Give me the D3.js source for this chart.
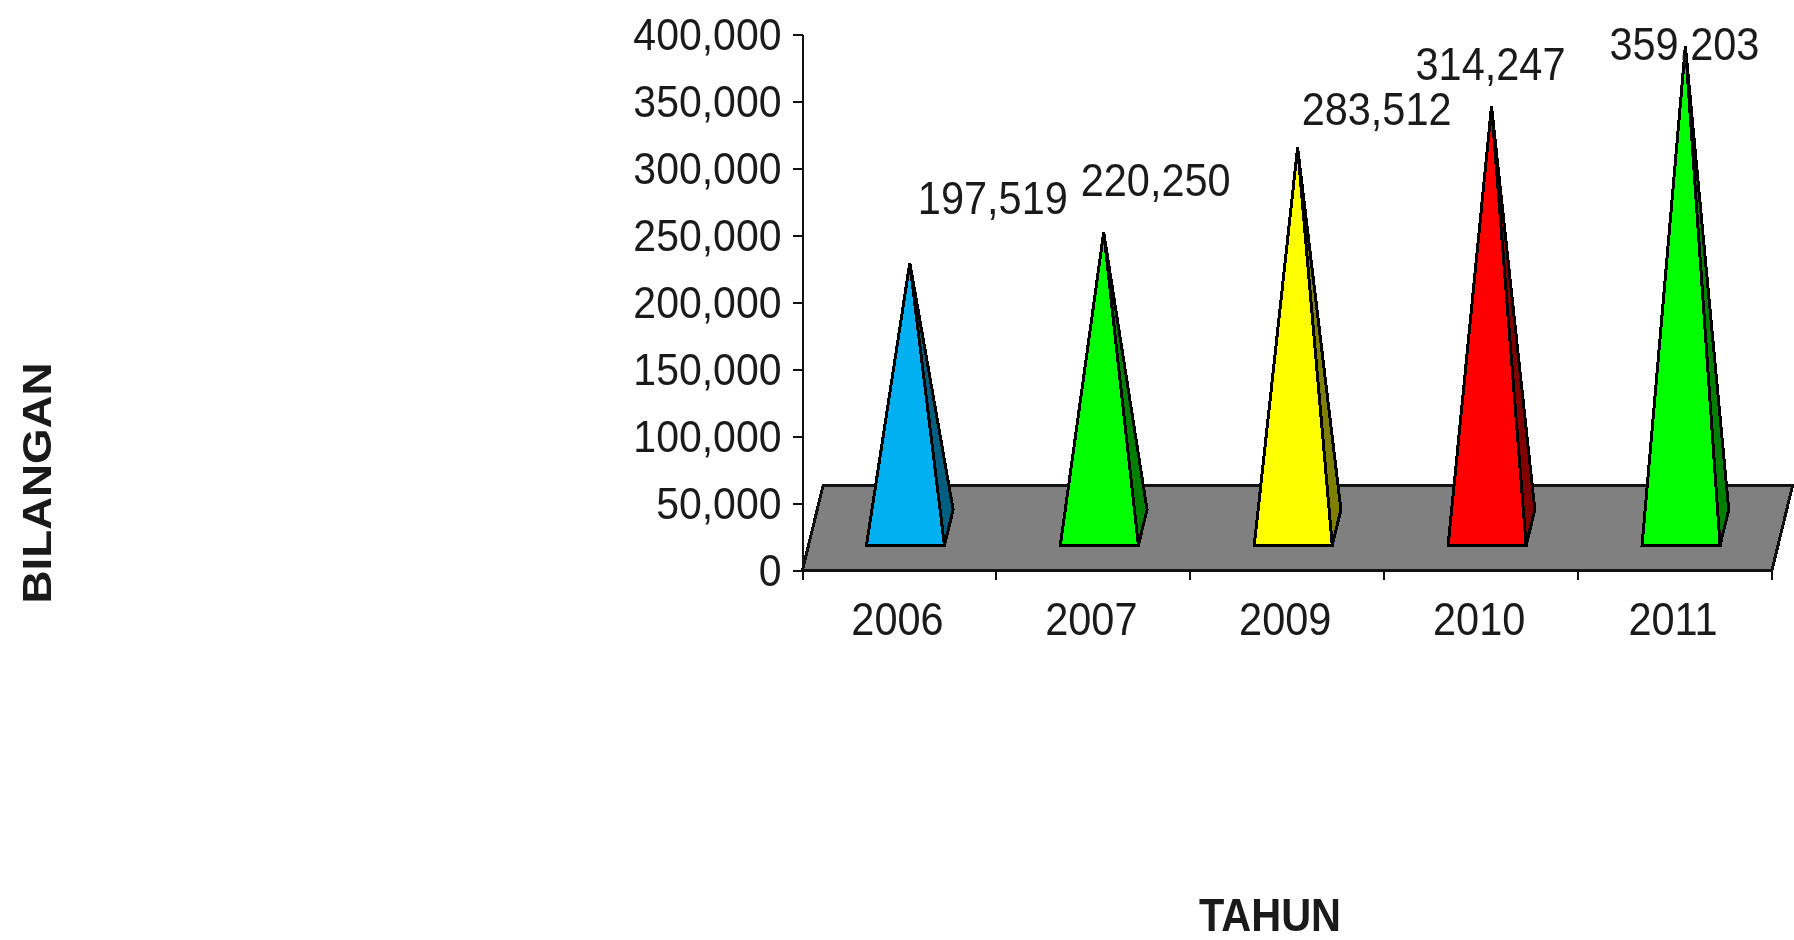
<!DOCTYPE html>
<html>
<head>
<meta charset="utf-8">
<style>
html, body { margin: 0; padding: 0; background: #fff; overflow: hidden; }
svg { display: block; filter: blur(0.5px); }
text { font-family: "Liberation Sans", Arial, sans-serif; fill: #1a1a1a; }
</style>
<script src="https://cdnjs.cloudflare.com/ajax/libs/d3/7.8.5/d3.min.js"></script>
</head>
<body>
<div id="vis-container"></div>
<script>
var years = ['2006', '2007', '2009', '2010', '2011']
var values = [197519, 220250, 283512, 314247, 359203]
var yTicks = [0, 50000, 100000, 150000, 200000, 250000, 300000, 350000, 400000]
var frontColors = ['#00b0f0', '#00ff00', '#ffff00', '#ff0000', '#00ff00']
var sideColors = ['#005f80', '#008000', '#808000', '#800000', '#008000']

// hand placed data labels, relative to the pyramid tip
var labelDx = [83, 52, 79, -1, -1]
var labelDy = [-65, -53, -39, -43, -3]

var width = 1794, height = 940
var fontSize = 41.5, tickFontSize = 41, stretch = 1.1
var depthX = 20.7, depthY = 85
var baseWidth = 78, baseFront = 0.29, baseBack = 0.71

var svg = d3.select('#vis-container').append('svg')
	.attr('width', width)
	.attr('height', height)

var x = d3.scaleBand().domain(years).range([802.5, 1772]).padding(0)
var y = d3.scaleLinear().domain([0, 400000]).range([570, 34])

// project a point on the floor, d = 0 at the front edge, d = 1 at the back edge
var px = function(xv, d) { return xv + d * depthX }
var py = function(yv, d) { return yv - d * depthY }
var pts = function(list) { return list.map(function(p) { return p.join(',') }).join(' ') }

// stretch text vertically, the source picture was not scaled evenly
var stretchText = function(sel, tx, ty) {
	sel.attr('x', 0).attr('y', 0).attr('dy', null)
		.attr('font-size', fontSize)
		.attr('transform', function(d, i) {
			return 'translate(' + tx(d, i) + ',' + ty(d, i) + ') scale(1,' + stretch + ')'
		})
}

var x0 = x.range()[0], x1 = x.range()[1], y0 = y(0)

svg.append('polygon')
	.attr('points', pts([[x0, y0], [x1, y0], [px(x1, 1), py(y0, 1)], [px(x0, 1), py(y0, 1)]]))
	.attr('fill', '#808080')
	.attr('stroke', '#111')
	.attr('stroke-width', 3)
	.attr('shape-rendering', 'crispEdges')

var pyramids = svg.selectAll('.pyramid')
	.data(years)
	.enter().append('g')
	.attr('class', 'pyramid')
	.attr('stroke', '#000')
	.attr('stroke-width', 3)
	.attr('shape-rendering', 'crispEdges')

var center = function(d) { return x(d) + x.bandwidth() / 2 }
var tip = function(d, i) { return [px(center(d), 0.5), py(y(values[i]), 0.5)] }

pyramids.append('polygon')
	.attr('fill', function(d, i) { return sideColors[i] })
	.attr('points', function(d, i) {
		var c = center(d)
		return pts([
			[px(c + baseWidth / 2, baseFront), py(y0, baseFront)],
			[px(c + baseWidth / 2, baseBack), py(y0, baseBack)],
			tip(d, i)])
	})

pyramids.append('polygon')
	.attr('fill', function(d, i) { return frontColors[i] })
	.attr('points', function(d, i) {
		var c = center(d)
		return pts([
			[px(c - baseWidth / 2, baseFront), py(y0, baseFront)],
			[px(c + baseWidth / 2, baseFront), py(y0, baseFront)],
			tip(d, i)])
	})

var yAxis = svg.append('g')
	.attr('transform', 'translate(802.5,0)')
	.call(d3.axisLeft(y).tickValues(yTicks).tickSize(10).tickSizeOuter(0).tickFormat(d3.format(',')))

var xAxis = svg.append('g')
	.attr('transform', 'translate(0,570)')
	.call(d3.axisBottom(x).tickValues([]).tickSize(0).tickSizeOuter(0))

// the year ticks sit on the band edges, not the band centers
xAxis.selectAll('.edge')
	.data(years.concat(['end']))
	.enter().append('line')
	.attr('class', 'edge')
	.attr('x1', function(d, i) { return x0 + i * x.step() })
	.attr('x2', function(d, i) { return x0 + i * x.step() })
	.attr('y1', 0)
	.attr('y2', 10)

svg.selectAll('.domain, .tick line, .edge')
	.attr('stroke', '#111')
	.attr('stroke-width', 2)
	.attr('shape-rendering', 'crispEdges')

yAxis.selectAll('.tick text')
	.attr('text-anchor', 'end')
	.call(stretchText, function() { return -21 }, function() { return 15 })
	.attr('font-size', tickFontSize)

svg.selectAll('.year')
	.data(years)
	.enter().append('text')
	.attr('class', 'year')
	.attr('text-anchor', 'middle')
	.text(function(d) { return d })
	.call(stretchText, function(d) { return center(d) - 2 }, function() { return 635 })

svg.selectAll('.value')
	.data(years)
	.enter().append('text')
	.attr('class', 'value')
	.attr('text-anchor', 'middle')
	.text(function(d, i) { return d3.format(',')(values[i]) })
	.call(stretchText,
		function(d, i) { return tip(d, i)[0] + labelDx[i] },
		function(d, i) { return tip(d, i)[1] + labelDy[i] + 16.5 })

svg.append('text')
	.attr('text-anchor', 'middle')
	.attr('font-weight', 'bold')
	.attr('font-size', 41.5)
	.attr('transform', 'translate(1270,931) scale(1,' + stretch + ')')
	.text('TAHUN')

svg.append('text')
	.attr('text-anchor', 'middle')
	.attr('font-weight', 'bold')
	.attr('font-size', 41.5)
	.attr('transform', 'translate(51,483) rotate(-90) scale(' + stretch + ',1)')
	.text('BILANGAN')
</script>
</body>
</html>
